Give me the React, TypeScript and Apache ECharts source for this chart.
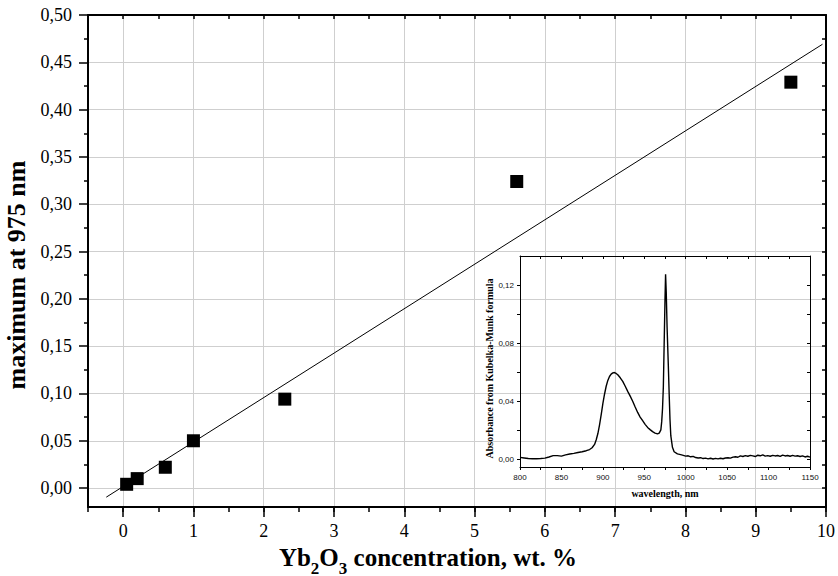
import React, { useEffect, useRef } from 'react';
import * as echarts from 'echarts';

// ---- main chart data ----
const concX = [0.05, 0.2, 0.6, 1.0, 2.3, 5.6, 9.5];
const maxY = [0.004, 0.010, 0.022, 0.050, 0.094, 0.324, 0.429];
const fitX = [-0.24, 9.95];
const fitY = [-0.0096, 0.4691];

const xMajorTicks = [0, 1, 2, 3, 4, 5, 6, 7, 8, 9, 10];
const xMinorTicks = [-0.5, 0, 0.5, 1, 1.5, 2, 2.5, 3, 3.5, 4, 4.5, 5, 5.5, 6, 6.5, 7, 7.5, 8, 8.5, 9, 9.5, 10];
const yMajorTicks = [0, 0.05, 0.1, 0.15, 0.2, 0.25, 0.3, 0.35, 0.4, 0.45, 0.5];
const yMinorTicks = [0.025, 0.075, 0.125, 0.175, 0.225, 0.275, 0.325, 0.375, 0.425, 0.475];

// ---- inset data ----
const insetYTicks = [0, 0.04, 0.08, 0.12];
const insetYMinor = [0.02, 0.06, 0.1];

const specW = [
  800, 805, 810, 815, 820, 825, 830, 835, 840, 845, 850, 855, 860, 865, 870, 875, 880, 884, 887, 890,
  892, 894, 896, 898, 900, 902, 904, 906, 908, 910, 912, 914, 916, 918, 921, 924, 927, 930, 933, 936,
  939, 942, 945, 948, 951, 954, 957, 960, 963, 966, 968, 970, 971, 972, 973, 974, 975, 975.7, 976.5, 977.5,
  979, 980, 981, 982, 984, 986, 990, 995, 1000, 1003, 1006, 1009, 1012, 1015, 1018, 1021, 1024, 1027, 1030, 1033,
  1036, 1039, 1042, 1045, 1048, 1051, 1054, 1057, 1060, 1063, 1066, 1069, 1072, 1075, 1078, 1081, 1084, 1087, 1090, 1093,
  1096, 1099, 1102, 1105, 1108, 1111, 1114, 1117, 1120, 1123, 1126, 1129, 1132, 1135, 1138, 1141, 1144, 1147, 1150,
];
const specA = [
  0.0016, 0.0012, 0.0008, 0.0007, 0.0007, 0.0008, 0.0011, 0.0019, 0.0028, 0.0028, 0.0025, 0.0033, 0.0039, 0.0044, 0.005, 0.0055, 0.0062, 0.007, 0.0082, 0.0105,
  0.0137, 0.018, 0.024, 0.031, 0.0385, 0.045, 0.0505, 0.0545, 0.0572, 0.0588, 0.0597, 0.0599, 0.0593, 0.0584, 0.0563, 0.0538, 0.0505, 0.047, 0.0437, 0.0402,
  0.0362, 0.0325, 0.0293, 0.0268, 0.0243, 0.0222, 0.0207, 0.0193, 0.0183, 0.0178, 0.0183, 0.0205, 0.026, 0.035, 0.05, 0.08, 0.11, 0.1275, 0.115, 0.0914,
  0.065, 0.0457, 0.028, 0.0165, 0.0085, 0.0055, 0.004, 0.0033, 0.0025, 0.0027, 0.002, 0.0023, 0.0015, 0.0012, 0.0014, 0.0008, 0.0011, 0.0006, 0.001, 0.0005,
  0.0009, 0.0006, 0.001, 0.0007, 0.0012, 0.0014, 0.0011, 0.0018, 0.002, 0.0017, 0.0026, 0.0022, 0.0028, 0.0024, 0.003, 0.0026, 0.0022, 0.0031, 0.0027, 0.0033,
  0.0025, 0.0028, 0.0024, 0.003, 0.0026, 0.0029, 0.0023, 0.0032, 0.0026, 0.0029, 0.0024, 0.003, 0.0025, 0.0027, 0.0022, 0.0026, 0.0019, 0.0024, 0.0018,
];

const SERIF = '"Liberation Serif", "Times New Roman", serif';
const SANS = '"Liberation Sans", Arial, sans-serif';
const comma2 = (v: number) => v.toFixed(2).replace('.', ',');
const tickRich = { t: { fontFamily: SERIF, fontSize: 18, color: '#000', lineHeight: 20 } };

function buildOption(): any {
  const axisLine = () => ({ show: true, onZero: false, lineStyle: { color: '#000', width: 2 } });
  const thinLine = () => ({ show: true, onZero: false, lineStyle: { color: '#000', width: 1 } });
  const noLine = () => ({ show: false, onZero: false });
  return {
    animation: false,
    backgroundColor: '#fff',
    textStyle: { fontFamily: SERIF, color: '#000' },
    grid: [
      { left: 88, right: 12, top: 15, bottom: 69, containLabel: false, outerBoundsMode: 'none' },
      { left: 520, right: 28, top: 256, bottom: 109, containLabel: false, outerBoundsMode: 'none' },
    ],
    xAxis: [
      {
        type: 'value', gridIndex: 0, position: 'bottom', min: -0.5, max: 10,
        axisLine: axisLine(),
        axisTick: { show: true, customValues: xMajorTicks, length: 10, lineStyle: { color: '#000', width: 1.5 } },
        axisLabel: {
          customValues: xMajorTicks, fontSize: 18, fontFamily: SERIF, color: '#000', margin: 14,
          formatter: (v: number) => `{t|${v}}`, rich: tickRich,
        },
        splitLine: { show: true, lineStyle: { color: '#cfcfcf', width: 1 } },
        name: '{a|Yb}{s|2}{a|O}{s|3}{a| concentration, wt. %}',
        nameLocation: 'middle',
        nameGap: 30,
        nameTextStyle: {
          fontFamily: SERIF, fontWeight: 'bold', fontSize: 25, color: '#000', padding: [0, 58, 0, 0],
          rich: {
            a: { fontFamily: SERIF, fontWeight: 'bold', fontSize: 25, color: '#000', verticalAlign: 'top', lineHeight: 26 },
            s: { fontFamily: SERIF, fontWeight: 'bold', fontSize: 17, color: '#000', verticalAlign: 'top', lineHeight: 16, padding: [15, 0, 0, 0] },
          },
        },
      },
      {
        type: 'value', gridIndex: 0, position: 'bottom', min: -0.5, max: 10,
        axisLine: noLine(),
        axisTick: { show: true, customValues: xMinorTicks, length: 5, lineStyle: { color: '#000', width: 1.5 } },
        axisLabel: { show: false },
        splitLine: { show: false },
      },
      {
        type: 'value', gridIndex: 0, position: 'top', min: -0.5, max: 10,
        axisLine: axisLine(),
        axisTick: { show: true, inside: true, customValues: xMinorTicks, length: 4, lineStyle: { color: '#000', width: 1.5 } },
        axisLabel: { show: false },
        splitLine: { show: false },
      },
      {
        type: 'value', gridIndex: 1, position: 'bottom', min: 800, max: 1150, interval: 50,
        axisLine: thinLine(),
        axisTick: { show: true, length: 3, lineStyle: { color: '#000', width: 1 } },
        minorTick: { show: true, splitNumber: 2, length: 3, lineStyle: { color: '#000', width: 1 } },
        axisLabel: { fontSize: 8, fontFamily: SANS, color: '#111', margin: 6, formatter: (v: number) => String(v) },
        splitLine: { show: false },
        name: 'wavelength, nm',
        nameLocation: 'middle',
        nameGap: 21,
        nameTextStyle: { fontFamily: SERIF, fontWeight: 'bold', fontSize: 10, color: '#000' },
      },
      {
        type: 'value', gridIndex: 1, position: 'top', min: 800, max: 1150, interval: 50,
        axisLine: thinLine(),
        axisTick: { show: true, inside: true, length: 3, lineStyle: { color: '#000', width: 1 } },
        minorTick: { show: true, splitNumber: 2, length: 3, lineStyle: { color: '#000', width: 1 } },
        axisLabel: { show: false },
        splitLine: { show: false },
      },
    ],
    yAxis: [
      {
        type: 'value', gridIndex: 0, position: 'left', min: -0.02, max: 0.5,
        axisLine: axisLine(),
        axisTick: { show: true, customValues: yMajorTicks, length: 9, lineStyle: { color: '#000', width: 1.5 } },
        axisLabel: {
          customValues: yMajorTicks, fontSize: 18, fontFamily: SERIF, color: '#000', margin: 16,
          formatter: (v: number) => `{t|${comma2(v)}}`, rich: tickRich,
        },
        splitLine: { show: true, lineStyle: { color: '#cfcfcf', width: 1 } },
        name: 'maximum at 975 nm',
        nameLocation: 'middle',
        nameGap: 51,
        nameTextStyle: { fontFamily: SERIF, fontWeight: 'bold', fontSize: 26, color: '#000', padding: [0, 28, 0, 0] },
      },
      {
        type: 'value', gridIndex: 0, position: 'left', min: -0.02, max: 0.5,
        axisLine: noLine(),
        axisTick: { show: true, customValues: yMinorTicks, length: 4, lineStyle: { color: '#000', width: 1.5 } },
        axisLabel: { show: false },
        splitLine: { show: false },
      },
      {
        type: 'value', gridIndex: 0, position: 'right', min: -0.02, max: 0.5,
        axisLine: axisLine(),
        axisTick: { show: true, inside: true, customValues: yMajorTicks.concat(yMinorTicks), length: 4, lineStyle: { color: '#000', width: 1.5 } },
        axisLabel: { show: false },
        splitLine: { show: false },
      },
      {
        type: 'value', gridIndex: 1, position: 'left', min: -0.005, max: 0.14,
        axisLine: thinLine(),
        axisTick: { show: true, customValues: insetYTicks.concat(insetYMinor), length: 3, lineStyle: { color: '#000', width: 1 } },
        axisLabel: { customValues: insetYTicks, formatter: comma2, fontSize: 8, fontFamily: SANS, color: '#111', margin: 6 },
        splitLine: { show: false },
        name: 'Absorbance from Kubelka-Munk formula',
        nameLocation: 'middle',
        nameGap: 25,
        nameTextStyle: { fontFamily: SERIF, fontWeight: 'bold', fontSize: 10, color: '#000', padding: [0, 14, 0, 0] },
      },
      {
        type: 'value', gridIndex: 1, position: 'right', min: -0.005, max: 0.14,
        axisLine: thinLine(),
        axisTick: { show: true, inside: true, customValues: insetYTicks.concat(insetYMinor), length: 3, lineStyle: { color: '#000', width: 1 } },
        axisLabel: { show: false },
        splitLine: { show: false },
      },
    ],
    series: [
      {
        type: 'line', xAxisIndex: 0, yAxisIndex: 0,
        data: fitX.map((x, i) => [x, fitY[i]]),
        showSymbol: false, symbol: 'none',
        lineStyle: { color: '#000', width: 1 },
        z: 3,
      },
      {
        type: 'scatter', xAxisIndex: 0, yAxisIndex: 0,
        data: concX.map((x, i) => [x, maxY[i]]),
        symbol: 'rect', symbolSize: 13,
        itemStyle: { color: '#000', opacity: 1 },
        z: 4,
      },
      {
        type: 'line', xAxisIndex: 3, yAxisIndex: 3,
        data: specW.map((w, i) => [w, specA[i]]),
        showSymbol: false, symbol: 'none',
        lineStyle: { color: '#000', width: 1.4 },
        z: 3,
      },
    ],
  };
}

export default function App() {
  const ref = useRef<HTMLDivElement>(null);
  useEffect(() => {
    if (!ref.current) return;
    const chart = echarts.init(ref.current, null, { renderer: 'svg' });
    chart.setOption(buildOption());
    return () => chart.dispose();
  }, []);
  return (
    <div
      ref={ref}
      style={{ position: 'fixed', left: 0, top: 0, width: 838, height: 576, background: '#fff' }}
    />
  );
}
